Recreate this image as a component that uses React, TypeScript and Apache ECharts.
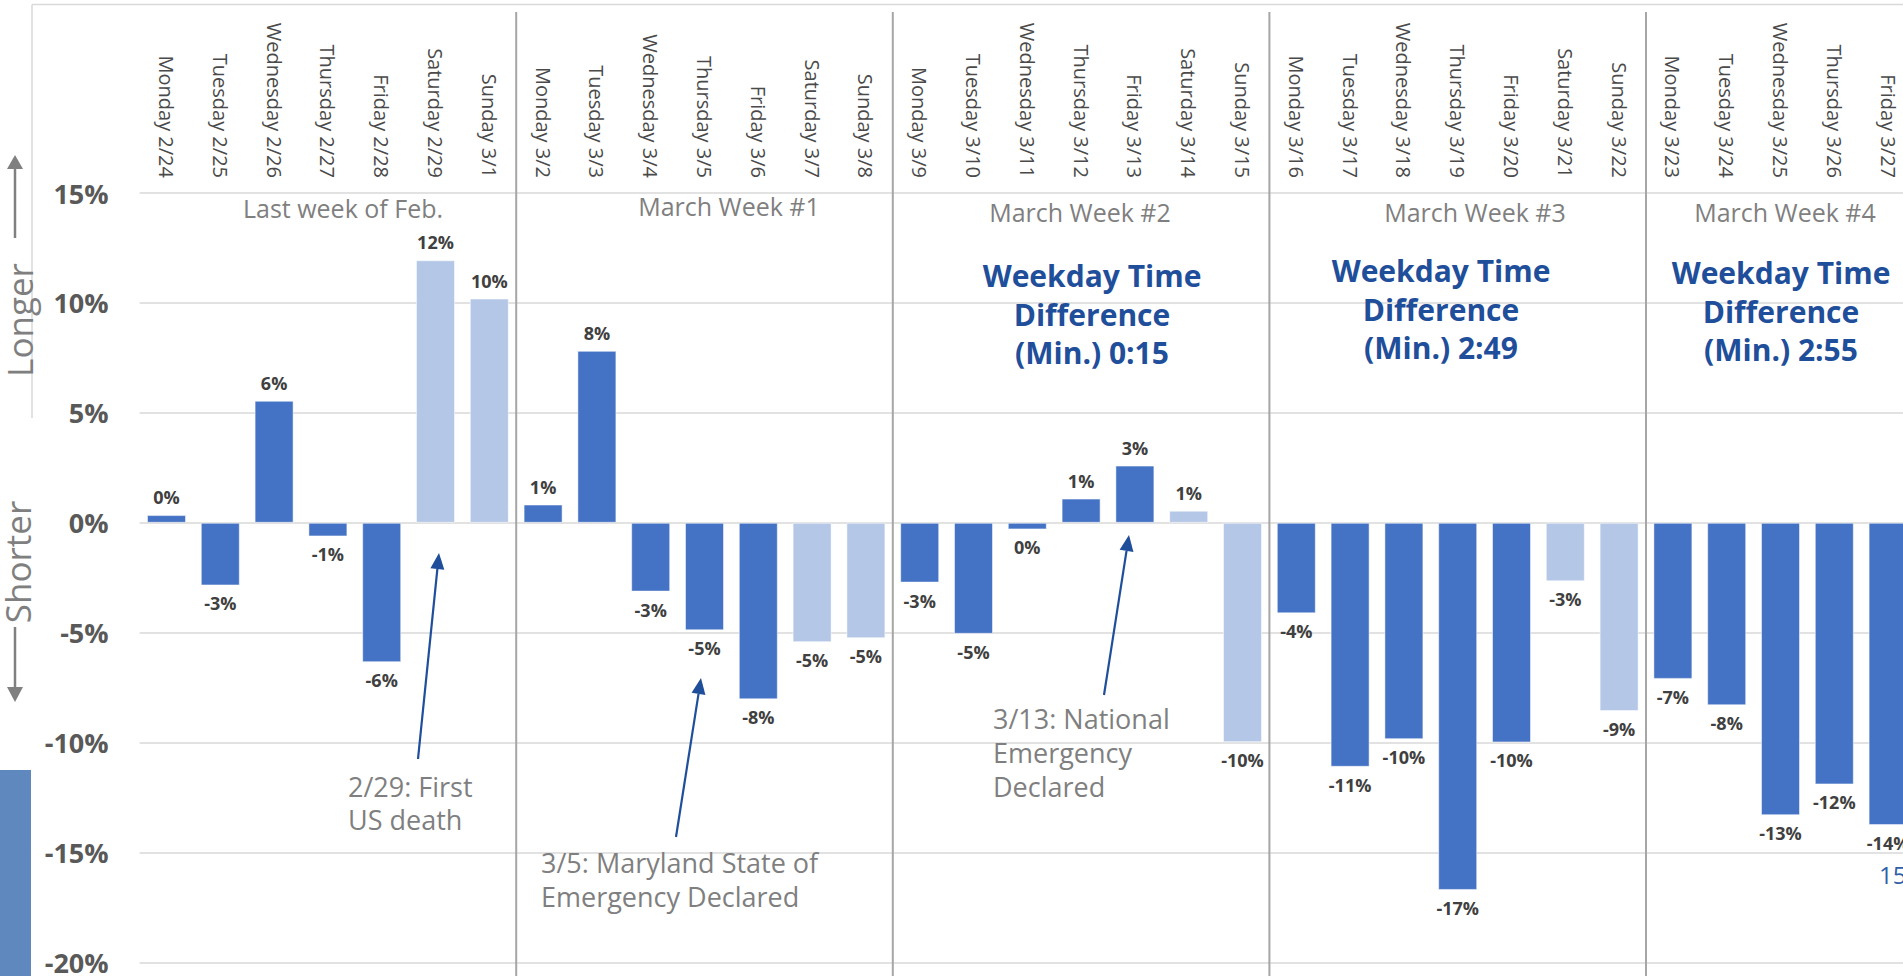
import React, { useEffect, useRef } from "react";
import * as echarts from "echarts";

const categories = [
  "Monday 2/24", "Tuesday 2/25", "Wednesday 2/26", "Thursday 2/27", "Friday 2/28", "Saturday 2/29", "Sunday 3/1",
  "Monday 3/2", "Tuesday 3/3", "Wednesday 3/4", "Thursday 3/5", "Friday 3/6", "Saturday 3/7", "Sunday 3/8",
  "Monday 3/9", "Tuesday 3/10", "Wednesday 3/11", "Thursday 3/12", "Friday 3/13", "Saturday 3/14", "Sunday 3/15",
  "Monday 3/16", "Tuesday 3/17", "Wednesday 3/18", "Thursday 3/19", "Friday 3/20", "Saturday 3/21", "Sunday 3/22",
  "Monday 3/23", "Tuesday 3/24", "Wednesday 3/25", "Thursday 3/26", "Friday 3/27",
];

const values = [
  0.35, -2.85, 5.55, -0.62, -6.34, 11.94, 10.2,
  0.83, 7.82, -3.13, -4.89, -8.03, -5.43, -5.25,
  -2.72, -5.05, -0.3, 1.1, 2.6, 0.55, -9.98,
  -4.12, -11.1, -9.84, -16.7, -9.99, -2.66, -8.56,
  -7.1, -8.3, -13.3, -11.9, -13.75,
];

const weekLabels = ["Last week of Feb.", "March Week #1", "March Week #2", "March Week #3", "March Week #4"];
const weekdayDiffs = ["0:15", "2:49", "2:55"];
const weekStarts = [7, 14, 21, 28];

const WEEKDAY = "#4472C4";
const WEEKEND = "#B4C7E7";
const BLUE_TXT = "#1F4E9A";
const GRAY_TXT = "#7F7F7F";
const FONT = '"Open Sans", "DejaVu Sans", sans-serif';

function arrow(x1: number, y1: number, x2: number, y2: number, color: string, w = 2, len = 14, half = 6) {
  const dx = x2 - x1, dy = y2 - y1;
  const L = Math.sqrt(dx * dx + dy * dy);
  const ux = dx / L, uy = dy / L;
  const bx = x2 - ux * len, by = y2 - uy * len;
  const px = -uy, py = ux;
  return [
    { type: "line", shape: { x1, y1, x2: bx, y2: by }, style: { stroke: color, lineWidth: w }, silent: true },
    {
      type: "polygon",
      shape: { points: [[x2, y2], [bx + px * half, by + py * half], [bx - px * half, by - py * half]] },
      style: { fill: color },
      silent: true,
    },
  ];
}

function txt(text: string, x: number, y: number, font: string, fill: string, align = "center", lineHeight?: number, extra: any = {}) {
  return {
    type: "text",
    x,
    y,
    silent: true,
    ...extra,
    style: {
      text,
      font,
      fill,
      align,
      verticalAlign: "middle",
      textAlign: align,
      textVerticalAlign: "middle",
      lineHeight,
    },
  };
}

export default function App() {
  const ref = useRef<HTMLDivElement>(null);

  useEffect(() => {
    if (!ref.current) return;
    const chart = echarts.init(ref.current, undefined, { renderer: "svg" });

    const data = values.map((v, i) => {
      const weekend = /^(Saturday|Sunday)/.test(categories[i]);
      return {
        value: v,
        itemStyle: { color: weekend ? WEEKEND : WEEKDAY },
        label: { position: v >= 0 ? "top" : "bottom" },
      };
    });

    chart.setOption({
      animation: false,
      backgroundColor: "#ffffff",
      grid: { left: 139.6, right: 1930 - 139.6 - 33 * 53.8, top: 193, bottom: 12, containLabel: false },
      xAxis: {
        type: "category",
        position: "top",
        data: categories,
        axisLine: { show: false },
        axisTick: { show: false },
        splitLine: { show: false },
        axisLabel: {
          interval: 0,
          rotate: -90,
          margin: 15,
          color: "#4A4A4A",
          fontFamily: FONT,
          fontSize: 20,
        },
      },
      yAxis: {
        type: "value",
        min: -20,
        max: 15,
        interval: 5,
        axisLine: { show: false },
        axisTick: { show: false },
        splitLine: { lineStyle: { color: "#D9D9D9", width: 1.5 } },
        axisLabel: {
          formatter: (v: number) => `${v}%`,
          color: "#595959",
          fontFamily: FONT,
          fontWeight: "bold",
          fontSize: 27,
          margin: 31,
        },
      },
      series: [
        {
          type: "bar",
          data,
          barWidth: 39,
          itemStyle: { borderColor: "rgba(255,255,255,0.5)", borderWidth: 1 },
          label: {
            show: true,
            distance: 9,
            formatter: (p: any) => `${Math.round(p.value)}%`,
            color: "#404040",
            fontFamily: FONT,
            fontWeight: "bold",
            fontSize: 18,
          },
        },
      ],
    });

    const px = (i: number) => chart.convertToPixel({ xAxisIndex: 0 }, categories[i]) as number;
    const sepXs = weekStarts.map((i) => (px(i - 1) + px(i)) / 2);

    const g: any[] = [];
    g.push({ type: "line", shape: { x1: 32, y1: 4.5, x2: 1930, y2: 4.5 }, style: { stroke: "#D9D9D9", lineWidth: 1.5 }, silent: true });
    g.push({ type: "line", shape: { x1: 32, y1: 4.5, x2: 32, y2: 418 }, style: { stroke: "#D9D9D9", lineWidth: 1.5 }, silent: true });
    g.push({ type: "rect", shape: { x: 0, y: 770, width: 31, height: 206 }, style: { fill: "#5F88BF" }, silent: true });
    sepXs.forEach((x) => {
      g.push({ type: "line", shape: { x1: x, y1: 12, x2: x, y2: 976 }, style: { stroke: "#A6A6A6", lineWidth: 2 }, silent: true });
    });
    g.push(txt("Longer", 19, 320, `35px ${FONT}`, GRAY_TXT, "center", undefined, { rotation: Math.PI / 2 }));
    g.push(txt("Shorter", 17, 562, `35px ${FONT}`, GRAY_TXT, "center", undefined, { rotation: Math.PI / 2 }));
    g.push(...arrow(15, 238, 15, 155, "#808080", 2.5, 14, 8));
    g.push(...arrow(15, 627, 15, 702, "#808080", 2.5, 15, 8));
    const weekLabelPos = [[343, 208], [729, 206], [1080, 212], [1475, 212], [1785, 212]];
    weekLabels.forEach((t, i) => {
      g.push(txt(t, weekLabelPos[i][0], weekLabelPos[i][1], `25px ${FONT}`, GRAY_TXT));
    });
    const diffPos = [[1092, 314], [1441, 309], [1781, 311]];
    weekdayDiffs.forEach((d, i) => {
      g.push(txt(`Weekday Time\nDifference\n(Min.) ${d}`, diffPos[i][0], diffPos[i][1], `bold 30px ${FONT}`, BLUE_TXT, "center", 38.5));
    });
    g.push(txt("2/29: First\nUS death", 348, 803, `27px ${FONT}`, GRAY_TXT, "left", 33));
    g.push(txt("3/5: Maryland State of\nEmergency Declared", 541, 879, `27px ${FONT}`, GRAY_TXT, "left", 34));
    g.push(txt("3/13: National\nEmergency\nDeclared", 993, 752, `27px ${FONT}`, GRAY_TXT, "left", 34));
    g.push(...arrow(418, 759, 439, 553, BLUE_TXT, 2.2, 16, 7));
    g.push(...arrow(676, 837, 701, 678, BLUE_TXT, 2.2, 16, 7));
    g.push(...arrow(1104, 695, 1129, 535, BLUE_TXT, 2.2, 16, 7));
    g.push(txt("15", 1879, 874, `24px ${FONT}`, "#2E5FA8", "left"));

    chart.setOption({ graphic: g });

    return () => chart.dispose();
  }, []);

  return (
    <div style={{ position: "fixed", left: 0, top: 0, width: 1903, height: 976, overflow: "hidden", background: "#fff" }}>
      <div ref={ref} style={{ width: 1930, height: 976 }} />
    </div>
  );
}
